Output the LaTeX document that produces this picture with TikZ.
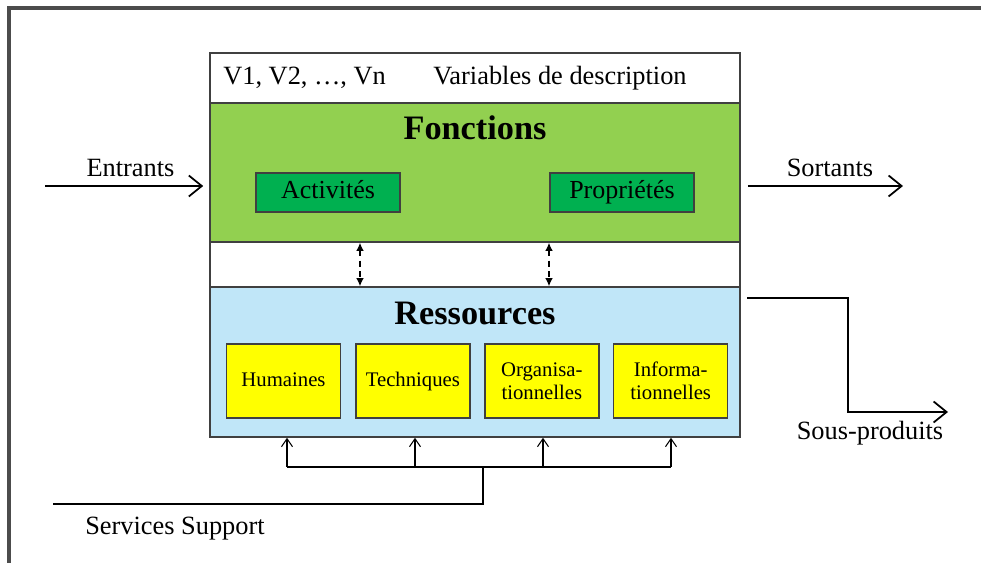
\documentclass[tikz,border=0pt]{standalone}
\usepackage{fontspec}
\setmainfont{Liberation Serif}
\usepackage{tikz}
\usetikzlibrary{positioning,arrows.meta}

\definecolor{fgreen}{RGB}{146,208,80}
\definecolor{agreen}{RGB}{0,176,80}
\definecolor{rblue}{RGB}{192,230,248}
\definecolor{ryellow}{RGB}{255,255,0}
\definecolor{edgegray}{RGB}{64,64,64}

\begin{document}
\begin{tikzpicture}
	\tikzset{
		band/.style={draw=edgegray,line width=0.9pt,minimum width=10.6cm,inner sep=0pt},
		fbox/.style={draw=edgegray,line width=0.8pt,fill=agreen,minimum width=2.88cm,minimum height=0.78cm,inner sep=0pt,text height=2.1ex,text depth=0.6ex,font=\fontsize{14.8}{16}\selectfont},
		rbox/.style={draw=edgegray,line width=0.8pt,fill=ryellow,minimum width=2.28cm,minimum height=1.48cm,inner sep=0pt,align=center,font=\fontsize{11.8}{13.2}\selectfont},
		oneline/.style={text height=1.9ex,text depth=0.6ex},
		lbl/.style={inner sep=0pt,font=\fontsize{15}{17}\selectfont},
		title/.style={inner sep=0pt,font=\fontsize{19.5}{22}\selectfont\bfseries},
		flow/.style={line width=1pt,-{Straight Barb[length=2.6mm,width=4.2mm]}},
		feed/.style={line width=0.6pt,-{Straight Barb[length=1.6mm,width=2.2mm]}}
	}
	\useasboundingbox (0,0) rectangle (19.62,11.26);

	%% frame
	\draw[gray!60!black,line width=1.8pt] (0.18,0) -- (0.18,11.10) -- (19.62,11.10);

	%% system box
	\node[band,fill=white,minimum height=1.0cm] (vars) at (9.5,9.70) {};
	\node[band,fill=fgreen,minimum height=2.78cm] (fonc) at (9.5,7.81) {};
	\node[band,fill=white,minimum height=0.9cm] (gap) at (9.5,5.97) {};
	\node[band,fill=rblue,minimum height=3.0cm] (res) at (9.5,4.02) {};

	\node[lbl,anchor=west] (vlist) at (4.46,9.70) {V1, V2, …, Vn};
	\node[lbl,anchor=west] (vdesc) at (8.66,9.70) {Variables de description};

	\node[title] (fonctitle) at (9.5,8.70) {Fonctions};
	\node[fbox] (act) at (6.56,7.41) {Activités};
	\node[fbox] (prop) at (12.44,7.41) {Propriétés};

	\node[title] (restitle) at (9.5,5.00) {Ressources};
	\node[rbox,oneline] (hum) at (5.67,3.64) {Humaines};
	\node[rbox,oneline,right=0.28cm of hum] (tech) {Techniques};
	\node[rbox,right=0.27cm of tech] (orga) {Organisa-\\tionnelles};
	\node[rbox,right=0.27cm of orga] (info) {Informa-\\tionnelles};

	%% links between functions and resources
	\coordinate (d1) at (7.20,0);
	\coordinate (d2) at (10.98,0);
	\foreach \d in {d1,d2}
		\draw[line width=0.7pt,dash pattern=on 1.2mm off 0.9mm,{Latex[length=1.6mm,width=1.5mm]}-{Latex[length=1.6mm,width=1.5mm]}]
			(\d |- fonc.south) -- (\d |- res.north);

	%% inputs and outputs
	\coordinate (ent) at (0.9,7.54);
	\draw[flow,shorten >=0.12cm] (ent) -- (ent -| fonc.west);
	\node[lbl] (entlbl) at (2.61,7.90) {Entrants};

	\coordinate (sort) at (18.06,7.54);
	\draw[flow,shorten <=0.14cm] (sort -| fonc.east) -- (sort);
	\node[lbl] (sortlbl) at (16.60,7.90) {Sortants};

	\coordinate (sp0) at (14.94,5.30);
	\coordinate (spmid) at (16.96,3.02);
	\coordinate (spend) at (18.96,3.02);
	\draw[flow] (sp0) -| (spmid) -- (spend);
	\node[lbl] (splbl) at (17.40,2.60) {Sous-produits};

	%% support services
	\coordinate (b1) at (5.74,1.92);
	\coordinate (b2) at (8.30,1.92);
	\coordinate (b3) at (10.86,1.92);
	\coordinate (b4) at (13.42,1.92);
	\coordinate (hub) at (9.66,1.92);
	\coordinate (svc) at (1.06,1.18);
	\draw[line width=0.7pt] (b1) -- (b4);
	\draw[line width=0.7pt] (svc) -| (hub);
	\foreach \b in {b1,b2,b3,b4}
		\draw[feed] (\b) -- (\b |- res.south);
	\node[lbl] (svclbl) at (3.50,0.68) {Services Support};
\end{tikzpicture}
\end{document}
